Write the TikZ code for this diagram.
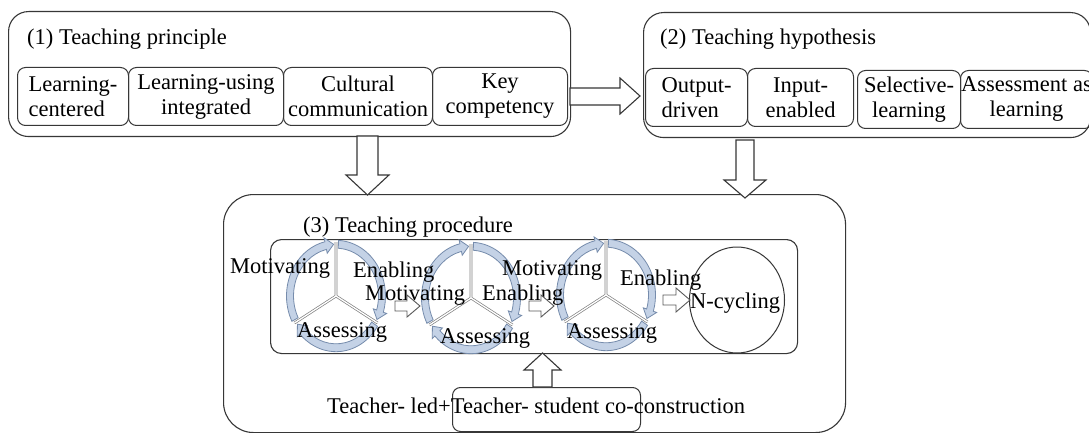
\documentclass[tikz,border=0pt]{standalone}
\usepackage{fontspec}
\setmainfont{Liberation Serif}
\usetikzlibrary{shapes.geometric}
\definecolor{ln}{RGB}{55,55,55}
\definecolor{ringfill}{RGB}{196,210,230}
\definecolor{ringline}{RGB}{118,140,172}
\newcommand\ringarc[3]{\path[ring] (#1:49.5pt) arc[start angle=#1,end angle=#2,radius=49.5pt] -- (#2:53pt) -- (#3:46pt) -- (#2:39pt) -- (#2:42.5pt) arc[start angle=#2,end angle=#1,radius=42.5pt] -- cycle;}
\newcommand\mycycle[2]{%
  \begin{scope}[shift={(#1,#2)}, yscale=1.125]
    \draw[spoke] (0pt,0pt) -- (90:48pt) (0pt,0pt) -- (210:48pt) (0pt,0pt) -- (330:48pt);
    \ringarc{207}{103}{93}
    \ringarc{87}{-17}{-27}
    \ringarc{-33}{-137}{-147}
  \end{scope}}
\begin{document}
\begin{tikzpicture}[x=1pt,y=-1pt,
  font=\fontsize{22.5}{25}\selectfont,
  box/.style={draw=ln, line width=1.1pt, inner sep=0pt, anchor=north west},
  ibox/.style={draw=ln, line width=1pt, rounded corners=8pt, inner sep=0pt, anchor=north west, text=black},
  barrow/.style={draw=ln, line width=1.1pt, fill=white, line join=miter},
  sarrow/.style={draw=black!65, line width=0.9pt, fill=white},
  lbl/.style={anchor=base west, inner sep=0pt, text=black},
  spoke/.style={draw=black!50, double=white, double distance=1.3pt, line width=0.7pt},
  ring/.style={fill=ringfill, draw=ringline, line width=0.8pt}]
\clip (0,0) rectangle (1089,433);
\fill[white] (0,0) rectangle (1089,433);

% (1) Teaching principle
\node[box, rounded corners=20pt, minimum width=562pt, minimum height=125pt] (b1) at (8,11) {};
\node[lbl] (t1) at (27,45) {(1) Teaching principle};
\node[ibox, minimum width=111pt, minimum height=58pt, align=left] (p1) at (17,67) {Learning-\\centered};
\node[ibox, minimum width=155pt, minimum height=58pt, align=center] (p2) at (128,67) {Learning-using\\integrated};
\node[ibox, minimum width=149pt, minimum height=58pt, align=center] (p3) at (283,67) {Cultural\\communication};
\node[ibox, minimum width=135pt, minimum height=58pt, align=center] (p4) at (432,67) {Key\\competency};

% (2) Teaching hypothesis
\node[box, rounded corners=20pt, minimum width=447pt, minimum height=125pt] (b2) at (643,12) {};
\node[lbl] (t2) at (660,45) {(2) Teaching hypothesis};
\node[ibox, minimum width=102pt, minimum height=58pt, align=left] (h1) at (645,68) {Output-\\driven};
\node[ibox, minimum width=106pt, minimum height=58pt, align=center] (h2) at (747,68) {Input-\\enabled};
\node[ibox, minimum width=103pt, minimum height=58pt, align=center] (h3) at (857,70) {Selective-\\learning};
\node[ibox, minimum width=132pt, minimum height=58pt, align=center] (h4) at (960,70) {Assessment as\\learning};

% (3) Teaching procedure
\node[box, rounded corners=30pt, minimum width=622pt, minimum height=238pt] (b3) at (223,194) {};
\node[lbl] (t3) at (303,232) {(3) Teaching procedure};
\node[box, rounded corners=11pt, minimum width=527pt, minimum height=114pt] (proc) at (270,239) {};

% block arrows
\draw[barrow] (570,88) -- (620,88) -- (620,78) -- (640,96) -- (620,114) -- (620,105) -- (570,105) -- cycle;
\draw[barrow] (357,136) -- (378,136) -- (378,175) -- (389,175) -- (367.5,195) -- (346,175) -- (357,175) -- cycle;
\draw[barrow] (736,140) -- (754,140) -- (754,180) -- (766,180) -- (745,198) -- (724,180) -- (736,180) -- cycle;

% cycles
\mycycle{336}{296}
\mycycle{471}{298}
\mycycle{606}{295}
\node[draw=ln, line width=1pt, ellipse, minimum width=95pt, minimum height=106pt, inner sep=0pt] (ncyc) at (737,300) {};

% cycle labels
\node[lbl] (m1) at (230,273) {Motivating};
\node[lbl] (e1) at (353,277) {Enabling};
\node[lbl] (a1) at (297,337) {Assessing};
\node[lbl] (m2) at (365,300) {Motivating};
\node[lbl] (e2) at (482,300) {Enabling};
\node[lbl] (a2) at (440,343) {Assessing};
\node[lbl] (m3) at (502,275) {Motivating};
\node[lbl] (e3) at (620,285) {Enabling};
\node[lbl] (a3) at (567,338) {Assessing};
\node[lbl] (nc) at (690,308) {N-cycling};

% small arrows
\draw[sarrow] (395,301) -- (407,301) -- (407,295) -- (420,306) -- (407,317) -- (407,311) -- (395,311) -- cycle;
\draw[sarrow] (529,301) -- (541,301) -- (541,295) -- (554,306) -- (541,317) -- (541,311) -- (529,311) -- cycle;
\draw[sarrow] (663,295) -- (676,295) -- (676,288) -- (690,300) -- (676,312) -- (676,305) -- (663,305) -- cycle;

% bottom
\node[box, rounded corners=8pt, line width=1pt, minimum width=188pt, minimum height=44pt] (tsc) at (452,387) {};
\draw[barrow] (533,387) -- (552,387) -- (552,370) -- (561,370) -- (542.5,353) -- (524,370) -- (533,370) -- cycle;
\node[lbl] (tl) at (327,413) {Teacher- led+Teacher- student co-construction};
\end{tikzpicture}
\end{document}
